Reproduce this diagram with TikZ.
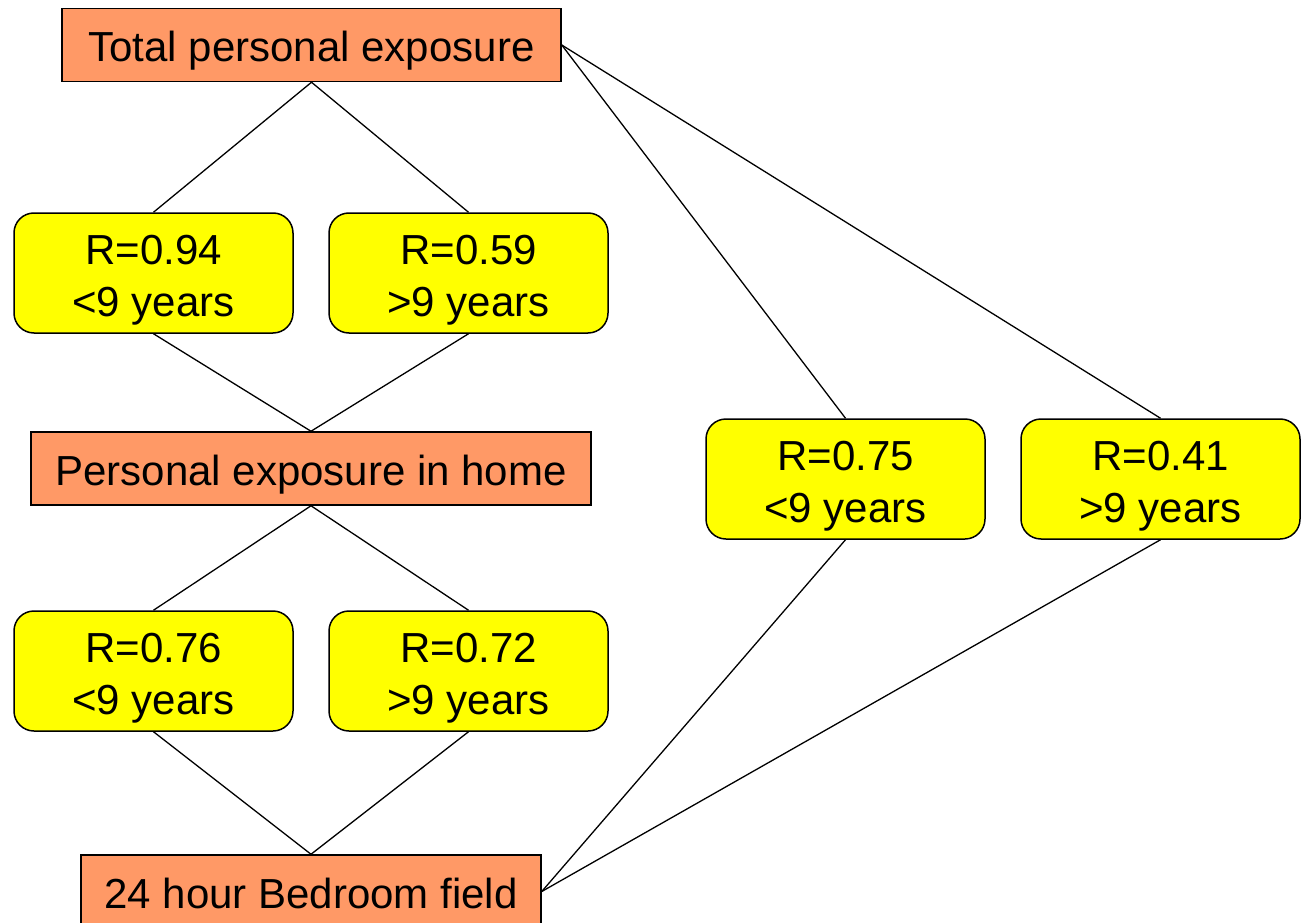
\documentclass[tikz,border=0pt]{standalone}
\usepackage{fontspec}
\setmainfont{Liberation Sans}
\definecolor{boxorange}{HTML}{FF9966}
\definecolor{boxyellow}{HTML}{FFFF00}
\begin{document}
\begin{tikzpicture}[x=1pt,y=-1pt,
  every node/.style={font=\fontsize{42}{52}\selectfont, inner sep=0pt, align=center},
  orangebox/.style={draw=black, line width=1.5pt, fill=boxorange, minimum height=73pt, text height=33pt, text depth=0pt},
  yellowbox/.style={draw=black, line width=1.5pt, fill=boxyellow, rounded corners=20pt, minimum width=279pt, minimum height=120pt, text height=86pt, text depth=0pt},
  link/.style={draw=black, line width=1.3pt}]
\useasboundingbox (0,0) rectangle (1301,923);
\clip (0,0) rectangle (1301,923);
\node[orangebox, minimum width=499pt] (top) at (311.5,45) {Total personal exposure};
\node[orangebox, minimum width=560pt] (home) at (311,468.5) {Personal exposure in home};
\node[orangebox, minimum width=460pt] (bed) at (311,891.5) {24 hour Bedroom field};
\node[yellowbox] (a) at (153.5,273) {R=0.94\\<9 years};
\node[yellowbox] (b) at (468.5,273) {R=0.59\\>9 years};
\node[yellowbox] (c) at (153.5,671) {R=0.76\\<9 years};
\node[yellowbox] (d) at (468.5,671) {R=0.72\\>9 years};
\node[yellowbox] (e) at (845.5,479) {R=0.75\\<9 years};
\node[yellowbox] (f) at (1160.5,479) {R=0.41\\>9 years};
\path[link] (top.south) -- (a.north);
\path[link] (top.south) -- (b.north);
\path[link] (a.south) -- (home.north);
\path[link] (b.south) -- (home.north);
\path[link] (home.south) -- (c.north);
\path[link] (home.south) -- (d.north);
\path[link] (c.south) -- (bed.north);
\path[link] (d.south) -- (bed.north);
\path[link] (top.east) -- (e.north);
\path[link] (top.east) -- (f.north);
\path[link] (e.south) -- (bed.east);
\path[link] (f.south) -- (bed.east);
\end{tikzpicture}
\end{document}
